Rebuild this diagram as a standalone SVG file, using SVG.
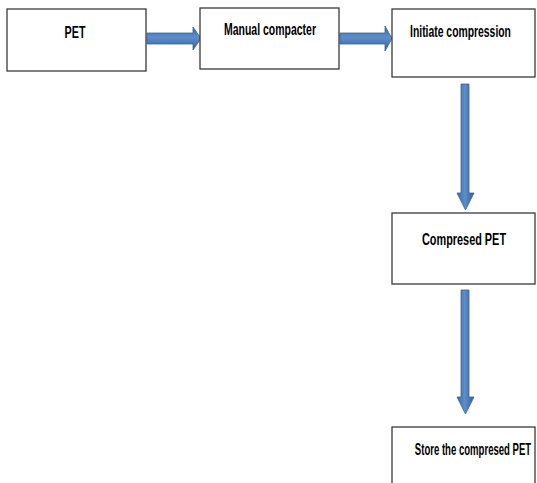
<svg xmlns="http://www.w3.org/2000/svg" width="537" height="483" viewBox="0 0 537 483">
<style>
.box{fill:#ffffff;stroke:#3a3a3a;stroke-width:1.3}
.lbl{font-family:"Liberation Sans",Arial,sans-serif;font-weight:bold;font-size:16.5px;fill:#000000;text-anchor:middle}
.arr{stroke:#3b6596;stroke-width:0.8}
.h{fill:url(#gh)}
.v{fill:url(#gv)}
</style>
<defs>
<linearGradient id="gh" x1="0" y1="0" x2="0" y2="1">
<stop offset="0" stop-color="#3d6aa3"/>
<stop offset="0.45" stop-color="#5d8dcb"/>
<stop offset="1" stop-color="#34609a"/>
</linearGradient>
<linearGradient id="gv" x1="0" y1="0" x2="1" y2="0">
<stop offset="0" stop-color="#3d6aa3"/>
<stop offset="0.45" stop-color="#5d8dcb"/>
<stop offset="1" stop-color="#34609a"/>
</linearGradient>
</defs>
<rect width="537" height="483" fill="#ffffff"/>
<g id="connectors">
<polygon class="arr h" points="147,33 193,33 193,27 201,38.5 193,50 193,44 147,44"/>
<polygon class="arr h" points="340,33 385,33 385,26 392,38.5 385,51 385,44 340,44"/>
<polygon class="arr v" points="461,84 469,84 469,193 474,193 465.5,210 457,193 461,193"/>
<polygon class="arr v" points="461,290 469,290 469,397 474,397 465.5,414 457,397 461,397"/>
</g>
<g id="node-pet">
<rect class="box" x="7" y="9" width="139" height="62"/>
<text class="lbl" transform="translate(75,38) scale(0.65,1)">PET</text>
</g>
<g id="node-manual">
<rect class="box" x="200" y="8" width="139" height="61"/>
<text class="lbl" transform="translate(270,35) scale(0.635,1)">Manual compacter</text>
</g>
<g id="node-initiate">
<rect class="box" x="392" y="9" width="143" height="68"/>
<text class="lbl" transform="translate(460.5,37) scale(0.63,1)">Initiate compression</text>
</g>
<g id="node-compressed">
<rect class="box" x="392" y="213" width="143" height="71"/>
<text class="lbl" transform="translate(464,245) scale(0.66,1)">Compresed PET</text>
</g>
<g id="node-store">
<rect class="box" x="392" y="427" width="143" height="70"/>
<text class="lbl" transform="translate(473,455) scale(0.58,1)">Store the compresed PET</text>
</g>
</svg>
